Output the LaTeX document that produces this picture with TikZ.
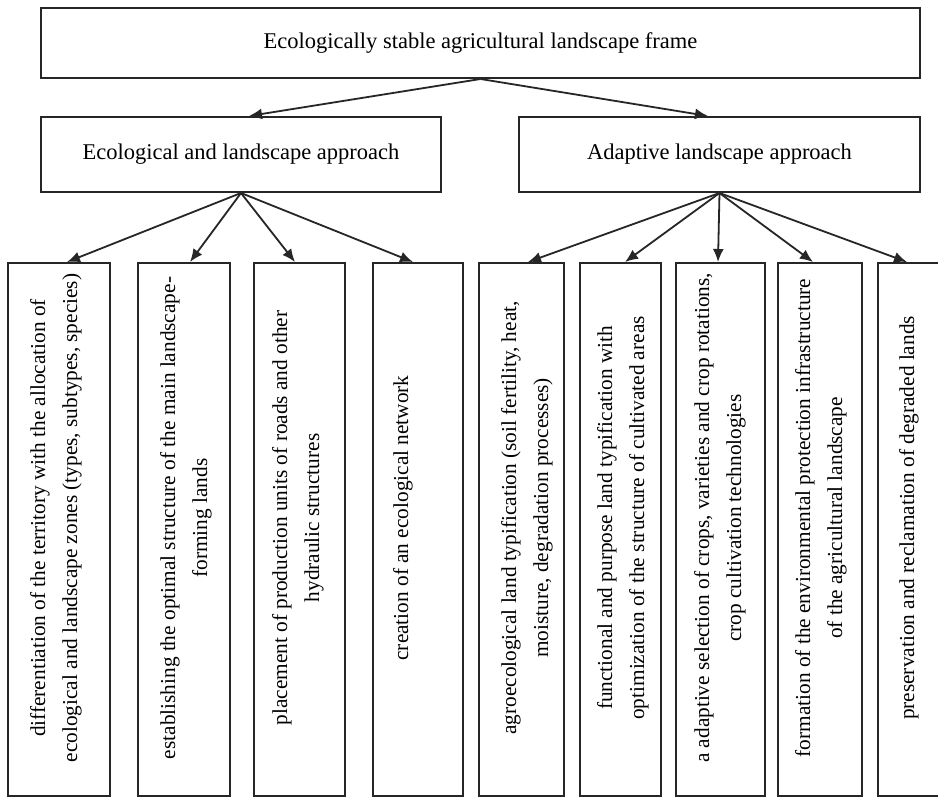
\documentclass[tikz,border=0pt]{standalone}
\usepackage{fontspec}
\setmainfont{Liberation Serif}
\usetikzlibrary{arrows.meta}
\begin{document}
\begin{tikzpicture}[x=1pt,y=-1pt,
  box/.style={draw=black!85, line width=2pt, inner sep=0pt, fill=white},
  headtxt/.style={font=\fontsize{22.5}{27}\selectfont},
  rot/.style={rotate=90, align=center, font=\fontsize{21.3}{32}\selectfont, inner sep=0pt},
  conn/.style={line width=1.8pt, draw=black!85, -{Latex[length=13pt,width=11pt]}}]
\clip (0,0) rectangle (938,798);
\fill[white] (0,0) rectangle (938,798);
% top levels
\node[box, headtxt, minimum width=879, minimum height=70] (top) at (480.5,43) {Ecologically stable agricultural landscape frame};
\node[box, headtxt, minimum width=400, minimum height=75] (lb) at (241,154.5) {Ecological and landscape approach};
\node[box, headtxt, minimum width=401, minimum height=75] (rb) at (719.5,154.5) {Adaptive landscape approach};
% bottom boxes
\node[box, minimum width=102, minimum height=533] (b1) at (59,529.5) {};
\node[box, minimum width=92, minimum height=533] (b2) at (184,529.5) {};
\node[box, minimum width=91, minimum height=533] (b3) at (299.5,529.5) {};
\node[box, minimum width=90, minimum height=533] (b4) at (418,529.5) {};
\node[box, minimum width=85, minimum height=533] (b5) at (521.5,529.5) {};
\node[box, minimum width=81, minimum height=533] (b6) at (620.5,529.5) {};
\node[box, minimum width=89, minimum height=533] (b7) at (720.5,529.5) {};
\node[box, minimum width=84, minimum height=533] (b8) at (820,529.5) {};
\node[box, minimum width=87, minimum height=533] (b9) at (921.5,529.5) {};
% texts
\node[rot] (t1) at (56,518) {differentiation of the territory with the allocation of\\ecological and landscape zones (types, subtypes, species)};
\node[rot] (t2) at (186,518) {establishing the optimal structure of the main landscape-\\forming lands};
\node[rot] (t3) at (298,518) {placement of production units of roads and other\\hydraulic structures};
\node[rot] (t4) at (403,518) {creation of an ecological network};
\node[rot] (t5) at (527,518) {agroecological land typification (soil fertility, heat,\\moisture, degradation processes)};
\node[rot] (t6) at (623,518) {functional and purpose land typification with\\optimization of the structure of cultivated areas};
\node[rot] (t7) at (720,518) {a adaptive selection of crops, varieties and crop rotations,\\crop cultivation technologies};
\node[rot] (t8) at (821,518) {formation of the environmental protection infrastructure\\of the agricultural landscape};
\node[rot] (t9) at (909,518) {preservation and reclamation of degraded lands};
% connectors
\draw[conn] (top.south) -- ([xshift=8]lb.north);
\draw[conn] (top.south) -- ([xshift=-11.5]rb.north);
\draw[conn] (lb.south) -- ([xshift=8]b1.north);
\draw[conn] (lb.south) -- ([xshift=6]b2.north);
\draw[conn] (lb.south) -- ([xshift=-4.5]b3.north);
\draw[conn] (lb.south) -- ([xshift=-5]b4.north);
\draw[conn] (rb.south) -- ([xshift=6.5]b5.north);
\draw[conn] (rb.south) -- ([xshift=4.5]b6.north);
\draw[conn] (rb.south) -- ([xshift=-2.5]b7.north);
\draw[conn] (rb.south) -- ([xshift=-7]b8.north);
\draw[conn] (rb.south) -- ([xshift=-14.5]b9.north);
\end{tikzpicture}
\end{document}
